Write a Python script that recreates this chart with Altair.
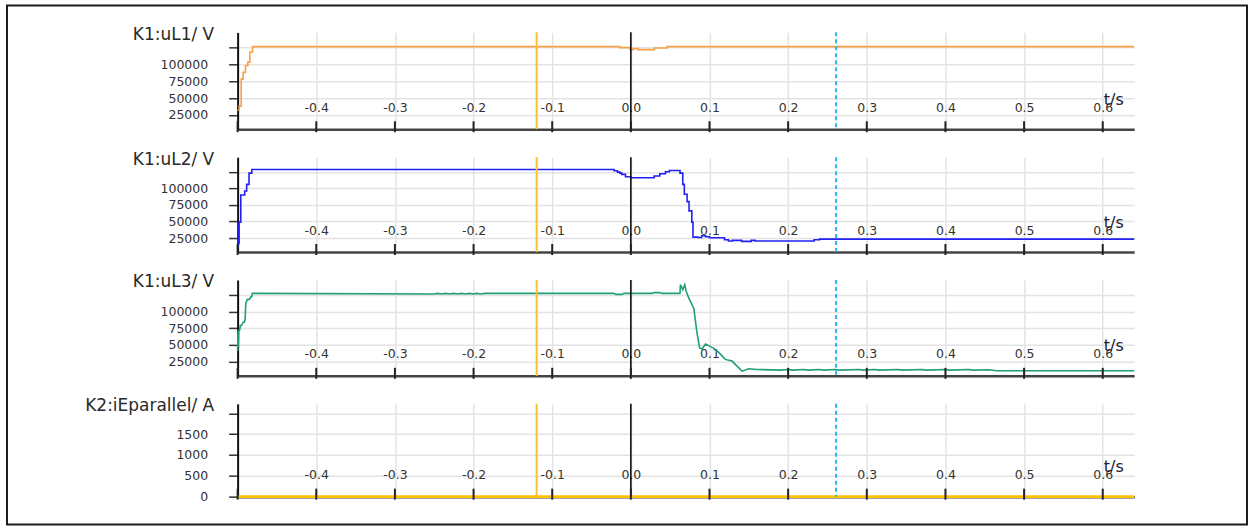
import altair as alt
import pandas as pd

# ---------------- sampled signals (time in s) ----------------
t_ul1 = [-0.5, -0.498, -0.4955, -0.493, -0.490, -0.487, -0.4845, -0.481,
         -0.014, -0.001, 0.003, 0.009, 0.030, 0.046, 0.64]
v_ul1 = [32000, 38000, 78000, 88000, 98000, 103000, 118000, 126000,
         124500, 121500, 123000, 121500, 124000, 126000, 126000]

t_ul2 = [-0.5, -0.4993, -0.4987, -0.4981, -0.496, -0.491, -0.4885, -0.4855, -0.482,
         -0.0213, -0.017, -0.014, -0.0116, -0.0068, 0.0, 0.027, 0.0296, 0.0368, 0.044,
         0.049, 0.0625, 0.066, 0.068, 0.0715, 0.074, 0.0775, 0.079, 0.085, 0.090,
         0.095, 0.100, 0.119, 0.124, 0.129, 0.141, 0.153, 0.158, 0.233, 0.240, 0.64]
v_ul2 = [12000, 47000, 17000, 49000, 90000, 96000, 106000, 123000, 128500,
         126500, 124500, 123000, 121000, 117500, 116000, 116000, 118500, 122000, 125000,
         127000, 123000, 106000, 91000, 80000, 66000, 49000, 26500, 26000, 28500,
         27000, 25600, 22500, 20500, 21500, 20000, 21500, 20500, 22500, 23500, 23500]

t_ul3 = [-0.5, -0.4995, -0.499, -0.4985, -0.4975, -0.4965, -0.495, -0.493, -0.4915,
         -0.4905, -0.4896, -0.4876, -0.4850, -0.4832, -0.4820, -0.4812,
         -0.250, -0.246, -0.240, -0.236, -0.230, -0.226, -0.220, -0.216, -0.210,
         -0.206, -0.200, -0.196, -0.190, -0.186,
         -0.0216, -0.019, -0.011, -0.009, 0.027, 0.029, 0.037, 0.039,
         0.0625, 0.063, 0.066, 0.0686, 0.0703, 0.0737, 0.080, 0.084, 0.0873,
         0.0906, 0.0949, 0.099, 0.1055, 0.112, 0.120, 0.1287, 0.135, 0.1414, 0.150,
         0.160, 0.190, 0.200, 0.205, 0.220, 0.225, 0.240, 0.245, 0.260, 0.265,
         0.290, 0.295, 0.310, 0.315, 0.340, 0.345, 0.370, 0.375, 0.400, 0.405,
         0.430, 0.435, 0.455, 0.465, 0.64]
v_ul3 = [41000, 70000, 47000, 72000, 72000, 79000, 79000, 84000, 84000,
         88000, 112000, 118000, 118000, 122000, 122000, 127000,
         126000, 127000, 126000, 127000, 126000, 127000, 126000, 127000, 126000,
         127000, 126000, 127000, 126000, 127000,
         127000, 125500, 125500, 127000, 127000, 128200, 128200, 127000,
         127000, 140000, 132500, 140000, 130000, 120000, 105000, 69000, 46000,
         44000, 51500, 49000, 45000, 38500, 28500, 26000, 18500, 11000, 14500,
         13500, 12500, 13500, 12500, 13500, 12500, 13500, 12500, 13500, 12500,
         13500, 12500, 13500, 12500, 13500, 12500, 13500, 12500, 13500, 12500,
         13500, 12500, 13000, 11500, 11500]

t_iep = [-0.5, 0.64]
v_iep = [0, 0]

# ---------------- axes / cursor settings ----------------
x_domain = [-0.5, 0.64]
x_label_values = [-0.4, -0.3, -0.2, -0.1, 0.0, 0.1, 0.2, 0.3, 0.4, 0.5, 0.6]
x_tick_values = [-0.5] + x_label_values
u_ticks = [25000, 50000, 75000, 100000, 125000]
i_ticks = [0, 500, 1000, 1500, 2000]
u_domain = [4000, 147000]
i_domain = [0, 2230]
cursor_a = -0.1198
cursor_b = 0.261
trigger = 0.0

PLOT_W = 898
FONT = "DejaVu Sans"
TEXT = "#2a2a2a"
GRID = "#e3e3e3"


def panel(t, v, color, title, ydomain, yticks, height, interp="step-after",
          width=1.6, frame=False):
    df = pd.DataFrame({"t": t, "v": v})
    xs = alt.Scale(domain=x_domain, nice=False, zero=False)
    x_axis = alt.Axis(
        values=x_label_values,
        labelExpr="(datum.value < 0 ? '-' : '') + format(abs(datum.value), '.1f')",
        ticks=False,
        labelPadding=-18, labelBaseline="alphabetic", labelFontSize=12.5,
        labelColor="#333333", labelFont=FONT, labelFlush=False,
        domainColor="#444444", domainWidth=2.5,
        grid=True, gridColor=GRID, gridWidth=1.5,
        title="t/s", titleX=877, titleY=-25, titleAlign="center",
        titleBaseline="alphabetic", titleFontSize=16, titleFontWeight="normal",
        titleColor="#202035", titleFont=FONT,
    )
    top = yticks[-1]
    y_axis = alt.Axis(
        values=yticks, format="d",
        labelExpr=f"datum.value == {top} ? '' : datum.label",
        labelFontSize=12.5, labelColor="#333333", labelFont=FONT,
        labelPadding=21, labelFlush=False,
        tickSize=9, tickWidth=1.5, tickColor="#333333",
        domainColor="#111111", domainWidth=2,
        grid=True, gridColor=GRID, gridWidth=1.5,
        title=title, titleAngle=0, titleAlign="right", titleBaseline="alphabetic",
        titleX=-24, titleY=7, titleFontSize=17, titleFontWeight="normal",
        titleColor=TEXT, titleFont=FONT,
    )
    line = alt.Chart(df).mark_line(
        interpolate=interp, color=color, strokeWidth=width
    ).encode(
        x=alt.X("t:Q", scale=xs, axis=x_axis),
        y=alt.Y("v:Q", scale=alt.Scale(domain=ydomain, nice=False, zero=False), axis=y_axis),
    )
    cur_a = alt.Chart(pd.DataFrame({"t": [cursor_a]})).mark_rule(
        color="#FDC12B", strokeWidth=2
    ).encode(x="t:Q")
    zero = alt.Chart(pd.DataFrame({"t": [trigger]})).mark_rule(
        color="#000000", strokeWidth=1.5
    ).encode(x="t:Q")
    cur_b = alt.Chart(pd.DataFrame({"t": [cursor_b]})).mark_rule(
        color="#21B7EE", strokeWidth=2, strokeDash=[4, 3]
    ).encode(x="t:Q")
    ticks = alt.Chart(pd.DataFrame({"t": x_tick_values})).mark_rule(
        color="#222222", strokeWidth=2
    ).encode(
        x="t:Q",
        y=alt.value(height - 8),
        y2=alt.value(height + 3),
    )
    layers = [line, cur_a, zero, cur_b, ticks]
    if frame:
        border = alt.Chart(alt.Data(values=[{}])).mark_rect(
            fillOpacity=0, stroke="#1c1c1c", strokeWidth=2
        ).encode(
            x=alt.value(-231), x2=alt.value(1011),
            y=alt.value(-27), y2=alt.value(493),
        )
        layers.append(border)
    return alt.layer(*layers).properties(width=PLOT_W, height=height)


p1 = panel(t_ul1, v_ul1, "#F8A046", "K1:uL1/ V", u_domain, u_ticks, 97, frame=True)
p2 = panel(t_ul2, v_ul2, "#2020F5", "K1:uL2/ V", u_domain, u_ticks, 95)
p3 = panel(t_ul3, v_ul3, "#1F9E78", "K1:uL3/ V", u_domain, u_ticks, 96, interp="linear")
p4 = panel(t_iep, v_iep, "#FFC000", "K2:iEparallel/ A", i_domain, i_ticks, 93, width=2.8)

chart = alt.vconcat(p1, p2, p3, p4, spacing=28, bounds="flush").properties(
    padding={"left": 5, "top": 3, "right": 5, "bottom": 3},
    background="white",
).configure_view(stroke="transparent")

chart.save("out.html", embed_options={"renderer": "svg", "actions": False})
